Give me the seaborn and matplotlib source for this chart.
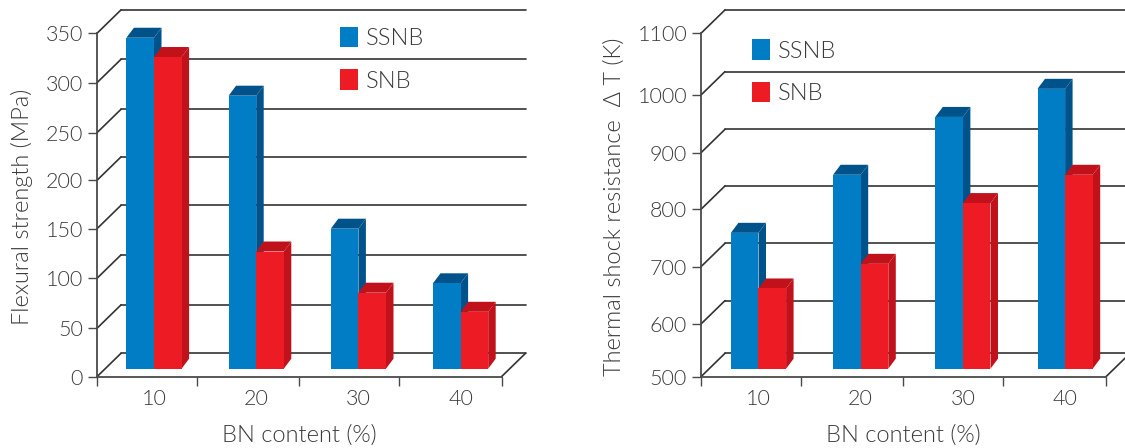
"""Flexural strength and thermal shock resistance vs BN content (pseudo-3D bars)."""

import matplotlib

matplotlib.use("Agg")

import matplotlib.pyplot as plt
import numpy as np
import pandas as pd
import seaborn as sns
from matplotlib.patches import Polygon
from matplotlib.transforms import Affine2D, IdentityTransform

bn_content = ["10", "20", "30", "40"]
series_names = ["SSNB", "SNB"]

strength_ssnb = [345.5, 287, 150, 95]
strength_snb = [326, 127, 85.6, 66.5]
strength_ticks = [0, 50, 100, 150, 200, 250, 300, 350]
# the printed axis is not quite even, so tick heights are kept as measured
strength_tick_px = [376.7, 328.3, 278.3, 228.7, 180.3, 132.7, 82.7, 33.3]
strength_edge_px = [97, 197, 299, 399, 501.5]

shock_ssnb = [759, 861, 962, 1010]
shock_snb = [662, 705, 811, 861]
shock_ticks = [500, 600, 700, 800, 900, 1000, 1100]
shock_tick_px = [376.7, 324, 266.7, 209.3, 152.7, 95, 33.3]
shock_edge_px = [701, 801, 903, 1003, 1106]

FRONT = {"SSNB": "#007DC5", "SNB": "#ED1C24"}
DARK = {"SSNB": "#00538A", "SNB": "#C1121C"}
TEXT = "#3a3a3a"
LINE = "#333333"
W, H = 1125, 448
CAT_PITCH = 102.2

sns.set_theme(style="white")
plt.rcParams["font.family"] = ["Lato", "Liberation Sans", "DejaVu Sans"]
plt.rcParams["font.weight"] = 300
plt.rcParams["axes.labelweight"] = 300
plt.rcParams["text.color"] = TEXT


def draw_panel(fig, ssnb, snb, ticks, tick_px, edge_px, first_center, ylabel, label_x, legend_xy):
    left, right = edge_px[0], edge_px[-1]
    top, bottom = tick_px[-1], tick_px[0]
    ax = fig.add_axes([left / W, 1 - bottom / H, (right - left) / W, (bottom - top) / H])
    df = pd.DataFrame(
        {
            "bn": bn_content * 2,
            "series": [series_names[0]] * 4 + [series_names[1]] * 4,
            "value": list(ssnb) + list(snb),
        }
    )
    sns.barplot(
        data=df, x="bn", y="value", hue="series", hue_order=series_names,
        palette=FRONT, width=0.54, gap=0, saturation=1, linewidth=0, ax=ax,
    )

    # y scale: value -> pixels above the axis bottom
    heights = bottom - np.array(tick_px)
    ax.set_yscale(
        "function",
        functions=(lambda v: np.interp(v, ticks, heights), lambda p: np.interp(p, heights, ticks)),
    )
    edges = [(px - first_center) / CAT_PITCH for px in edge_px]
    ax.set_xlim(edges[0], edges[-1])
    ax.set_ylim(ticks[0], ticks[-1])
    to_px = ax.transData.transform

    # back wall and floor, pushed back from the front plane
    wall = Affine2D().translate(24, 23.4)
    for t in ticks:
        ax.plot([edges[0], edges[-1]], [t, t], color=LINE, lw=1.2, clip_on=False, zorder=1,
                transform=ax.transData + wall)
    for xv, yvals in ((edges[0], ticks), (edges[-1], ticks[:1])):
        for t in yvals:
            p = to_px((xv, t))
            ax.plot([p[0], p[0] + 24], [p[1], p[1] + 23.4], color=LINE, lw=1.2, clip_on=False,
                    zorder=1, transform=IdentityTransform())

    # raise bars off the front edge and add side and top faces
    base = np.interp(8.0, heights, ticks)
    depth = np.array([7.5, 10.0])
    for z, (container, name) in enumerate(zip(ax.containers, series_names)):
        for bar in container:
            x0, x1 = bar.get_x(), bar.get_x() + bar.get_width()
            top_val = bar.get_height()
            bar.set_y(base)
            bar.set_height(top_val - base)
            bar.set_zorder(3 + 2 * z)
            bar.set_clip_on(False)
            br = to_px((x1, base))
            tl, tr = to_px((x0, top_val)), to_px((x1, top_val))
            side = [br, br + depth, tr + depth, tr]
            cap = [tl, tl + depth, tr + depth, tr]
            for pts in (side, cap):
                ax.add_patch(Polygon(pts, closed=True, facecolor=DARK[name], edgecolor="none",
                                     zorder=2 + 2 * z, clip_on=False, transform=IdentityTransform()))

    sns.despine(ax=ax)
    ax.patch.set_visible(False)
    for spine in ("left", "bottom"):
        ax.spines[spine].set_color("#4a4a4a")
        ax.spines[spine].set_linewidth(1.3)
        ax.spines[spine].set_zorder(2)

    ax.set_yticks(ticks, [str(t) for t in ticks])
    ax.minorticks_off()
    ax.tick_params(axis="y", length=6.5, width=1, color="#4a4a4a", left=True, pad=3.5, labelsize=15.5, labelcolor=TEXT)
    ax.set_xticks(range(4), bn_content)
    ax.set_xticks(edges, minor=True)
    ax.tick_params(axis="x", which="major", length=0, pad=9, labelsize=15.5, labelcolor=TEXT)
    ax.tick_params(axis="x", which="minor", length=6.5, width=1, color="#4a4a4a", bottom=True)

    ax.set_xlabel("BN content (%)", fontsize=17, color=TEXT)
    ax.xaxis.set_label_coords(0.5, -(425 - bottom) / (bottom - top))
    ax.set_ylabel(ylabel, fontsize=17, color=TEXT)
    ax.yaxis.set_label_coords((label_x - left) / (right - left), (bottom - 207) / (bottom - top))

    sns.move_legend(
        ax, "upper left", bbox_to_anchor=((legend_xy[0] - left) / (right - left), (bottom - legend_xy[1]) / (bottom - top)),
        frameon=False, title=None, fontsize=17, borderpad=0, borderaxespad=0,
        handlelength=0.75, handleheight=0.95, handletextpad=0.35, labelspacing=0.85,
    )
    ax.get_legend().set_zorder(10)
    return ax


fig = plt.figure(figsize=(W / 100, H / 100), dpi=100)
draw_panel(fig, strength_ssnb, strength_snb, strength_ticks, strength_tick_px, strength_edge_px, 154,
           "Flexural strength (MPa)", 33, (340, 27))
draw_panel(fig, shock_ssnb, shock_snb, shock_ticks, shock_tick_px, shock_edge_px, 758.5,
           "Thermal shock resistance  Δ T (K)", 625, (752, 39.5))
fig.savefig("out.png", dpi=100)
